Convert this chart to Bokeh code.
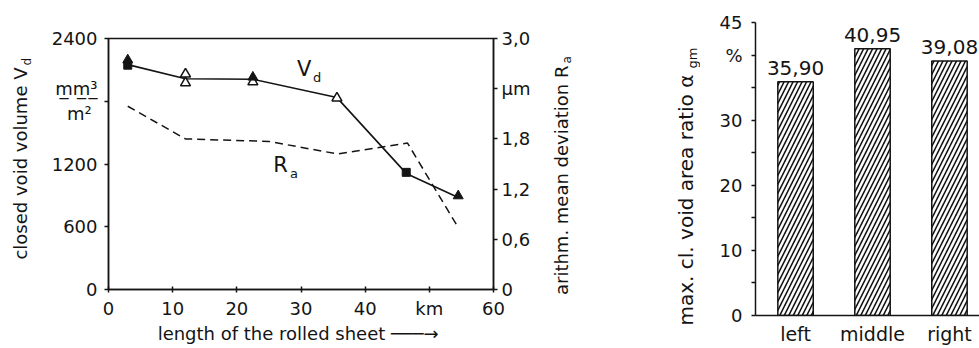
import math

from bokeh.embed import file_html
from bokeh.layouts import row
from bokeh.models import FixedTicker, Label, LinearAxis, Range1d
from bokeh.plotting import figure
from bokeh.resources import INLINE

# ---- data: closed void volume and roughness along the rolled sheet ----
vd_km = [3.0, 12.0, 22.5, 35.6, 46.4, 54.5]
vd_mm3 = [2150, 2015, 2010, 1835, 1110, 880]          # V_d, mm^3/m^2

filled_tri_km = [3.0, 22.5, 54.5]
filled_tri_vd = [2195, 2030, 895]
filled_sq_km = [3.0, 46.4]
filled_sq_vd = [2145, 1120]
open_tri_km = [12.0, 12.0, 22.5, 35.6]
open_tri_vd = [2060, 1975, 1985, 1830]

ra_km = [3.0, 12.0, 25.0, 35.7, 46.6, 54.5]
ra_um = [2.19, 1.80, 1.77, 1.62, 1.75, 0.74]           # R_a, micrometre

x_ticks = [0, 10, 20, 30, 40, 50, 60]
x_tick_labels = ["0", "10", "20", "30", "40", "km", "60"]
vd_ticks = [0, 600, 1200, 1800, 2400]
# unit written as a fraction: underlined mm³ over m²
vd_tick_labels = ["0", "600", "1200", "m\u0332m\u0332\u00b3\u0332\nm\u00b2\u00a0", "2400"]
ra_ticks = [0.0, 0.6, 1.2, 1.8, 2.4, 3.0]
ra_tick_labels = ["0", "0,6", "1,2", "1,8", "\u00b5m", "3,0"]

# ---- data: max. closed void area ratio across the sheet width ----
positions = ["left", "middle", "right"]
area_ratio = [35.90, 40.95, 39.08]
ratio_ticks = [0, 5, 10, 15, 20, 25, 30, 35, 40, 45]
ratio_tick_labels = ["0", "", "10", "", "20", "", "30", "", "%", "45"]

FONT = "DejaVu Sans"
INK = "#141414"
TICK_PT = "18px"
H = 348


def style_axis(ax, ticks, labels, tick_in=0, tick_out=4, standoff=6):
    ax.ticker = FixedTicker(ticks=ticks)
    ax.major_label_overrides = {t: s for t, s in zip(ticks, labels)}
    ax.major_label_text_font = FONT
    ax.major_label_text_font_size = TICK_PT
    ax.major_label_text_color = INK
    ax.major_label_standoff = standoff
    ax.major_tick_in = tick_in
    ax.major_tick_out = tick_out
    ax.major_tick_line_color = INK
    ax.major_tick_line_width = 1.5
    ax.minor_tick_line_color = None
    ax.axis_line_color = INK
    ax.axis_line_width = 1.5


def add_text(p, x, y, text, size, angle=0.0, align="center", **kw):
    p.add_layout(Label(x=x, y=y, text=text, angle=angle, text_align=align,
                       text_baseline="middle", text_font=FONT,
                       text_font_size=size, text_color=INK, **kw))


def base_figure(width, **kw):
    p = figure(width=width, height=H, output_backend="svg", toolbar_location=None,
               frame_align=False, **kw)
    p.grid.visible = False
    p.background_fill_color = "white"
    p.border_fill_color = "white"
    return p


def text_strip(width):
    """Blank panel (pixel coordinates, y upwards) that carries axis titles."""
    s = base_figure(width, x_range=Range1d(0, width), y_range=Range1d(0, H),
                    x_axis_type=None, y_axis_type=None, min_border=0)
    s.outline_line_color = None
    return s


# ================= left chart =================
left = base_figure(500, x_range=Range1d(0, 60), y_range=Range1d(0, 2400),
                   min_border_left=68, min_border_right=47,
                   min_border_top=38, min_border_bottom=59)
left.extra_y_ranges = {"ra": Range1d(0, 3.0)}
left.outline_line_color = INK
left.outline_line_width = 1.5

style_axis(left.xaxis[0], x_ticks, x_tick_labels, tick_in=3, tick_out=3, standoff=5)
left.xaxis[0].axis_label = "length of the rolled sheet  \u2500\u2500\u2500\u2192"
left.xaxis[0].axis_label_text_font = FONT
left.xaxis[0].axis_label_text_font_size = "18px"
left.xaxis[0].axis_label_text_font_style = "normal"
left.xaxis[0].axis_label_text_color = INK
left.xaxis[0].axis_label_standoff = 1
style_axis(left.yaxis[0], vd_ticks, vd_tick_labels, tick_out=4, standoff=7)
ra_axis = LinearAxis(y_range_name="ra")
style_axis(ra_axis, ra_ticks, ra_tick_labels, tick_out=4, standoff=4)
left.add_layout(ra_axis, "right")

# V_d curve with its measured points
left.line(vd_km, vd_mm3, line_color=INK, line_width=1.6)
left.scatter(open_tri_km, open_tri_vd, marker="triangle", size=10,
             fill_color="white", line_color=INK, line_width=1.5)
left.scatter(filled_sq_km, filled_sq_vd, marker="square", size=8,
             fill_color=INK, line_color=INK)
left.scatter(filled_tri_km, filled_tri_vd, marker="triangle", size=10,
             fill_color=INK, line_color=INK)

# R_a curve on the right-hand scale
left.line(ra_km, ra_um, y_range_name="ra", line_color=INK, line_width=1.5,
          line_dash="8 5")

# curve names
add_text(left, 30.5, 2113, "V", "21px")
add_text(left, 32.5, 2025, "d", "13px")
add_text(left, 26.8, 1186, "R", "21px")
add_text(left, 28.9, 1110, "a", "13px")

# ---- title strip left of the V_d scale ----
strip_a = text_strip(40)
add_text(strip_a, 20, H - 67, "closed void volume V", "18px",
         angle=math.pi / 2, align="right")
add_text(strip_a, 26.5, H - 65, "d", "12px", angle=math.pi / 2, align="left")

# ---- strip between the two charts: R_a title and the area-ratio title ----
strip_c = text_strip(160)
add_text(strip_c, 21, H - 65, "arithm. mean deviation R", "18px",
         angle=math.pi / 2, align="right")
add_text(strip_c, 26.5, H - 63, "a", "12px", angle=math.pi / 2, align="left")
add_text(strip_c, 145, H - 325, "max. cl. void area ratio \u03b1", "20px",
         angle=math.pi / 2, align="left")
add_text(strip_c, 152, H - 68, "gm", "13px", angle=math.pi / 2, align="left")

# ================= right chart =================
right = base_figure(279, x_range=Range1d(0.48, 3.39), y_range=Range1d(0, 45),
                    min_border_left=55, min_border_right=0,
                    min_border_top=22, min_border_bottom=33)
right.outline_line_color = None

bar_x = [i + 1 for i in range(len(positions))]
style_axis(right.xaxis[0], bar_x, positions, tick_out=0, standoff=7)
right.xaxis[0].major_tick_line_color = None
right.xaxis[0].major_label_text_font_size = "19px"
style_axis(right.yaxis[0], ratio_ticks, ratio_tick_labels, tick_out=4, standoff=9)

right.vbar(x=bar_x, top=area_ratio, width=0.46, bottom=0,
           fill_color="white", line_color=INK, line_width=1.5,
           hatch_pattern="/", hatch_color=INK, hatch_scale=9, hatch_weight=1.6)

for xv, v in zip(bar_x, area_ratio):
    add_text(right, xv, v, f"{v:.2f}".replace(".", ","), "20px", y_offset=14)

layout = row(strip_a, left, strip_c, right)
open("out.html", "w").write(file_html(layout, INLINE))
